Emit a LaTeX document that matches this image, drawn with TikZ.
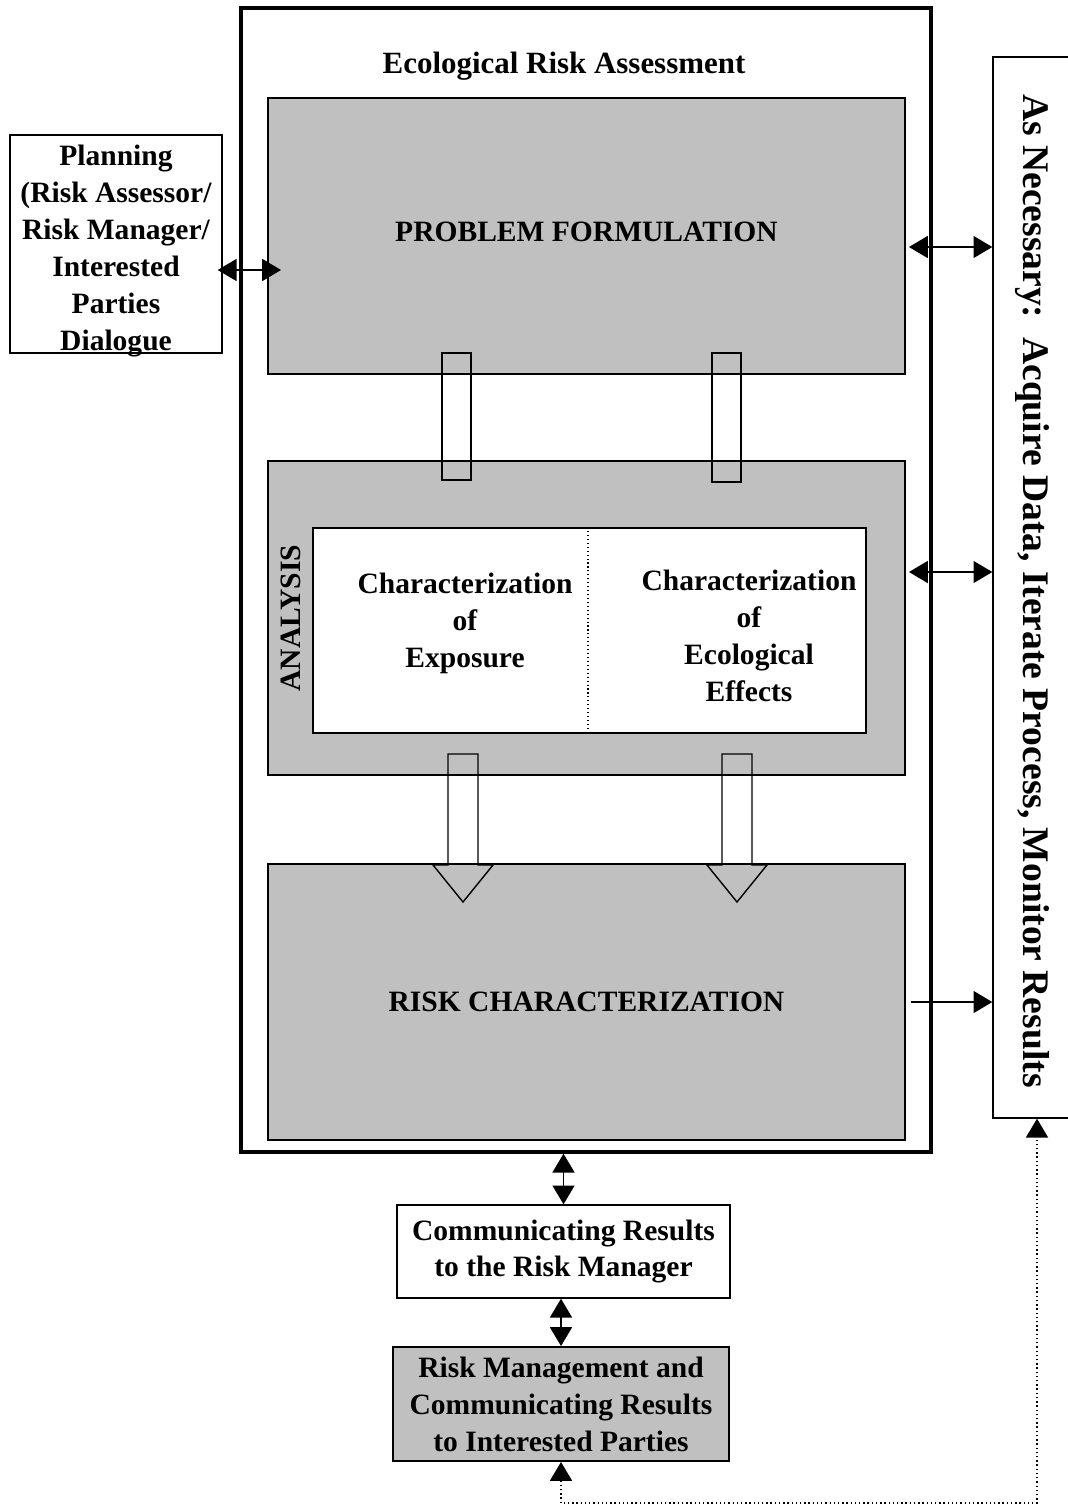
\documentclass[tikz,border=0pt]{standalone}
\usepackage{fontspec}
\setmainfont{Liberation Serif}
\usepackage{tikz}
\usetikzlibrary{arrows.meta,positioning,calc}
\definecolor{boxgray}{RGB}{192,192,192}
\def\pxu{0.025cm}

\begin{document}
\begin{tikzpicture}[
    x=0.025cm, y=-0.025cm,
    boxtext/.style={
        font=\fontsize{21pt}{26.3pt}\selectfont\bfseries,
        align=center,
        inner sep=0pt
        },
    outerbox/.style={
        draw,
        line width=2.4pt,
        inner sep=0pt
        },
    graybox/.style={
        boxtext,
        draw,
        fill=boxgray,
        line width=1.4pt,
        minimum width=637*\pxu
        },
    plainbox/.style={
        boxtext,
        draw,
        line width=1pt
        },
    linkbox/.style={
        draw,
        line width=1pt,
        minimum width=29*\pxu,
        inner sep=0pt
        },
    dblarrow/.style={
        line width=1pt,
        {Triangle[length=0.47cm,width=0.55cm]}-{Triangle[length=0.47cm,width=0.55cm]}
        },
    sglarrow/.style={
        line width=1pt,
        -{Triangle[length=0.47cm,width=0.55cm]}
        },
    blockdown/.pic={
        \draw[line width=1pt] (-15,0) -- (15,0) -- (15,111) -- (30,111)
            -- (0,148) -- (-30,111) -- (-15,111) -- cycle;
        },
  ]
  \useasboundingbox (0,0) rectangle (1067,1507);
  % Ecological risk assessment frame
  \node[outerbox, minimum width=690*\pxu, minimum height=1144*\pxu] (era) at (586,580) {};
  \node[boxtext, font=\fontsize{22pt}{26.3pt}\selectfont\bfseries] (eratitle) at (564,66) {Ecological Risk Assessment};
  % Phases
  \node[graybox, minimum height=276*\pxu] (pf) at (586.5,236) {\raisebox{0.2cm}{PROBLEM FORMULATION}};
  \node[graybox, minimum height=314*\pxu] (an) at (586.5,618) {};
  \node[graybox, minimum height=276*\pxu] (rc) at (586.5,1002) {RISK CHARACTERIZATION};
  % Analysis contents
  \node[draw, fill=white, line width=1.4pt, inner sep=0pt,
        minimum width=553*\pxu, minimum height=205*\pxu] (anin) at (589.5,630.5) {};
  \coordinate (div) at (588,630);
  \draw[dotted, line width=0.8pt] (div |- anin.north) -- (div |- anin.south);
  \node[boxtext] (expo) at (465,623) {Characterization\\of\\Exposure};
  \node[boxtext] (effe) at (749,636) {Characterization\\of\\Ecological\\Effects};
  \node[boxtext, rotate=90] (anlabel) at (291,618) {ANALYSIS};
  % Links between phases
  \node[linkbox, minimum height=127*\pxu] (linkl) at (456.5,416.5) {};
  \node[linkbox, minimum height=129*\pxu] (linkr) at (726.5,417.5) {};
  \pic (downl) at (463,754) {blockdown};
  \pic (downr) at (737,754) {blockdown};
  % Planning
  \node[draw, line width=1pt, minimum width=212*\pxu, minimum height=218*\pxu] (plan) at (116,244) {};
  \node[boxtext] (plantext) at (116,251)
      {Planning\\(Risk Assessor/\\Risk Manager/\\Interested\\Parties\\Dialogue};
  \draw[dblarrow] ([shift={(-5,26)}]plan.east) -- ([shift={(14,34)}]pf.west);
  % As necessary
  \node[draw, line width=1pt, minimum width=87*\pxu, minimum height=1061*\pxu] (nec) at (1036.5,587.5) {};
  \node[boxtext, font=\fontsize{26.7pt}{32pt}\selectfont\bfseries, rotate=-90] (nectext) at (1032,591)
      {As Necessary:\ \ Acquire Data, Iterate Process, Monitor Results};
  \draw[dblarrow] ([shift={(3,11)}]pf.east) -- ([shift={(0,11)}]pf.east -| nec.west);
  \draw[dblarrow] ([shift={(3,-46)}]an.east) -- ([shift={(0,-46)}]an.east -| nec.west);
  \draw[sglarrow] ([shift={(5,0)}]rc.east) -- (rc.east -| nec.west);
  % Communication
  \node[plainbox, minimum width=333*\pxu, minimum height=93*\pxu] (comm) at (563.5,1251.5)
      {Communicating Results\\to the Risk Manager};
  \node[plainbox, fill=boxgray, line width=1.4pt, minimum width=336*\pxu, minimum height=114*\pxu] (rm) at (561,1404)
      {Risk Management and\\Communicating Results\\to Interested Parties};
  \draw[dblarrow] (comm.north |- era.south) -- (comm.north);
  \draw[dblarrow] (rm.north) -- (rm.north |- comm.south);
  \coordinate (dotx) at (1037,1503);
  \draw[dotted, line width=1pt,
        {Triangle[length=0.47cm,width=0.55cm]}-{Triangle[length=0.47cm,width=0.55cm]}]
      (rm.south) |- (dotx) -- (dotx |- nec.south);
\end{tikzpicture}
\end{document}
